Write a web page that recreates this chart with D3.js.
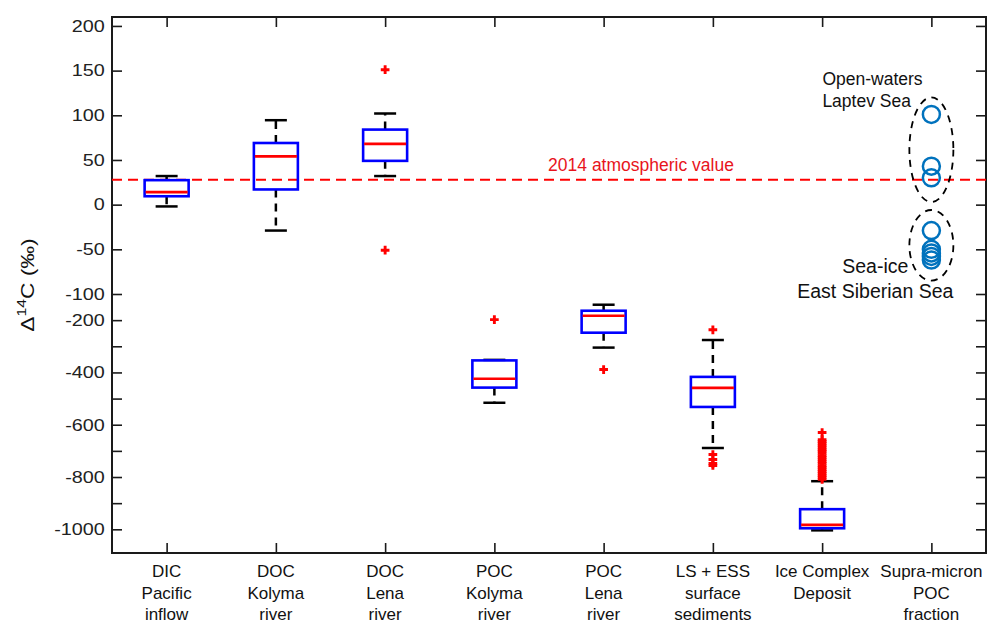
<!DOCTYPE html>
<html>
<head>
<meta charset="utf-8">
<script src="https://cdn.jsdelivr.net/npm/d3@7/dist/d3.min.js"></script>
<style>
  body { margin: 0; background: #fff; }
  text { font-family: "Liberation Sans", Arial, Helvetica, sans-serif; }
</style>
</head>
<body>
<svg id="chart" width="989" height="623"></svg>
<script>
///data
var categories = ["DIC", "DOC Kolyma", "DOC Lena", "POC Kolyma", "POC Lena", "LS+ESS", "ICD", "Supra"];
var catLabels = [
  ["DIC", "Pacific", "inflow"],
  ["DOC", "Kolyma", "river"],
  ["DOC", "Lena", "river"],
  ["POC", "Kolyma", "river"],
  ["POC", "Lena", "river"],
  ["LS + ESS", "surface", "sediments"],
  ["Ice Complex", "Deposit"],
  ["Supra-micron", "POC", "fraction"]
];

var whiskerLow  = [-2,   -29, 32,  -516, -305, -689, -1004];
var q1          = [9.4,  17,  49,  -458, -248, -532, -996];
var median      = [14,   54,  68,  -424, -183, -459, -983];
var q3          = [27.4, 69,  84,  -354, -164, -417, -923];
var whiskerHigh = [32,   94.5, 102, -352, -141, -276, -816];
var outliers = [
  [],
  [],
  [151, -51],
  [-198],
  [-389],
  [-237, -714, -733, -748, -756],
  [-630, -657, -664, -671, -679, -686, -695, -701, -709, -718, -725, -733, -741, -748, -757, -763, -771, -779, -786, -794, -801, -809]
];

var supraValues = [101, 43, 30, -29, -50, -54, -58, -62];
var openWaterRange = [3, 120];   // dashed ellipse, open waters
var seaIceRange = [-85, -6];     // dashed ellipse, sea ice
var atmosValue = 28;

var yTicksUpper = [-100, -50, 0, 50, 100, 150, 200];
var yTicksLower = [-1000, -900, -800, -700, -600, -500, -400, -300, -200];
var yLabelled = [-1000, -800, -600, -400, -200, -100, -50, 0, 50, 100, 150, 200];

///layout
var mLeft = 112, mRight = 986, mTop = 17, mBottom = 553;
var svg = d3.select('#chart');

var x = d3.scalePoint()
    .domain(categories)
    .range([mLeft, mRight])
    .padding(0.5);

// broken axis: compressed below -100
var y = d3.scaleLinear()
    .domain([-1090.6, -100, 210])
    .range([mBottom, 294, mTop]);

var axisColor = '#1a1a1a';
var allTicks = yTicksLower.concat(yTicksUpper);

///axes (ticks pointing in, like matlab)
var gLeft = svg.append('g')
    .attr('transform', `translate(${mLeft},0)`)
    .call(d3.axisLeft(y).tickValues(allTicks).tickSize(-10).tickSizeOuter(0).tickPadding(6)
      .tickFormat(d => yLabelled.indexOf(d) >= 0 ? d : ''));
gLeft.selectAll('text')
    .attr('font-size', '16.5px')
    .attr('fill', '#222')
    .attr('transform', 'scale(1.2,1)');

var gRight = svg.append('g')
    .attr('transform', `translate(${mRight},0)`)
    .call(d3.axisRight(y).tickValues(allTicks).tickSize(-10).tickSizeOuter(0).tickFormat(''));

var gTop = svg.append('g')
    .attr('transform', `translate(0,${mTop})`)
    .call(d3.axisTop(x).tickSize(-10).tickSizeOuter(0).tickFormat(''));

var gBottom = svg.append('g')
    .attr('transform', `translate(0,${mBottom})`)
    .call(d3.axisBottom(x).tickSize(-10).tickSizeOuter(0).tickFormat(''));

[gLeft, gRight, gTop, gBottom].forEach(g => {
  g.select('.domain').remove();
  g.selectAll('line').attr('stroke', axisColor).attr('stroke-width', 1.6);
});

svg.append('rect')
    .attr('x', mLeft).attr('y', mTop)
    .attr('width', mRight - mLeft).attr('height', mBottom - mTop)
    .attr('fill', 'none')
    .attr('stroke', axisColor)
    .attr('stroke-width', 2);

///category labels
catLabels.forEach((lines, i) => {
  var t = svg.append('text')
      .attr('text-anchor', 'middle')
      .attr('font-size', '17px')
      .attr('fill', '#111');
  lines.forEach((s, j) => {
    t.append('tspan')
        .attr('x', x(categories[i]))
        .attr('y', mBottom + 24 + j * 21.5)
        .text(s);
  });
});

///y label
var ylab = svg.append('text')
    .attr('transform', 'translate(34,285) rotate(-90) scale(1.2,1)')
    .attr('text-anchor', 'middle')
    .attr('font-size', '19px')
    .attr('fill', '#111');
ylab.append('tspan').text('\u0394');
ylab.append('tspan').attr('font-size', '13px').attr('dy', -8).text('14');
ylab.append('tspan').attr('dy', 8).text('C (\u2030)');

///atmospheric line
svg.append('line')
    .attr('x1', mLeft).attr('x2', mRight)
    .attr('y1', y(atmosValue)).attr('y2', y(atmosValue))
    .attr('stroke', '#ff0000')
    .attr('stroke-width', 2)
    .attr('stroke-dasharray', '10,6');

svg.append('text')
    .attr('x', 641)
    .attr('y', y(atmosValue) - 9)
    .attr('text-anchor', 'middle')
    .attr('font-size', '17.5px')
    .attr('fill', '#e8141c')
    .text('2014 atmospheric value');

///boxes
var boxHalf = 22, capHalf = 11;
var boxes = svg.append('g');

q1.forEach((_, i) => {
  var cx = x(categories[i]);
  var g = boxes.append('g');

  // whiskers
  [[q3[i], whiskerHigh[i]], [q1[i], whiskerLow[i]]].forEach(p => {
    g.append('line')
        .attr('x1', cx).attr('x2', cx)
        .attr('y1', y(p[0])).attr('y2', y(p[1]))
        .attr('stroke', '#000')
        .attr('stroke-width', 2.5)
        .attr('stroke-dasharray', '8,6');
    g.append('line')
        .attr('x1', cx - capHalf).attr('x2', cx + capHalf)
        .attr('y1', y(p[1])).attr('y2', y(p[1]))
        .attr('stroke', '#000')
        .attr('stroke-width', 2.5);
  });

  g.append('rect')
      .attr('x', cx - boxHalf)
      .attr('y', y(q3[i]))
      .attr('width', boxHalf * 2)
      .attr('height', y(q1[i]) - y(q3[i]))
      .attr('fill', 'none')
      .attr('stroke', '#0000ff')
      .attr('stroke-width', 2.6);

  g.append('line')
      .attr('x1', cx - boxHalf + 1).attr('x2', cx + boxHalf - 1)
      .attr('y1', y(median[i])).attr('y2', y(median[i]))
      .attr('stroke', '#ff0000')
      .attr('stroke-width', 2.6);

  g.selectAll('path.out')
      .data(outliers[i])
      .enter().append('path')
      .attr('class', 'out')
      .attr('transform', d => `translate(${cx},${y(d)})`)
      .attr('d', d3.symbol(d3.symbolCross, 42))
      .attr('fill', '#ff0000');
});

///supra-micron POC points
var sx = x(categories[7]);
[openWaterRange, seaIceRange].forEach(r => {
  svg.append('ellipse')
      .attr('cx', sx)
      .attr('cy', (y(r[0]) + y(r[1])) / 2)
      .attr('rx', 22)
      .attr('ry', (y(r[0]) - y(r[1])) / 2)
      .attr('fill', 'none')
      .attr('stroke', '#000')
      .attr('stroke-width', 1.8)
      .attr('stroke-dasharray', '7,6');
});

svg.selectAll('circle.supra')
    .data(supraValues)
    .enter().append('circle')
    .attr('class', 'supra')
    .attr('cx', sx)
    .attr('cy', d => y(d))
    .attr('r', 8.5)
    .attr('fill', 'none')
    .attr('stroke', '#0072bd')
    .attr('stroke-width', 2.5);

///annotations
svg.append('text')
    .attr('x', sx - 109).attr('y', y(openWaterRange[1]) - 12)
    .attr('font-size', '17.5px').attr('fill', '#111')
    .text('Open-waters');
svg.append('text')
    .attr('x', sx - 109).attr('y', y(openWaterRange[1]) + 10)
    .attr('font-size', '17.5px').attr('fill', '#111')
    .text('Laptev Sea');
svg.append('text')
    .attr('x', sx - 23).attr('y', y(seaIceRange[0]) - 8)
    .attr('text-anchor', 'end')
    .attr('font-size', '19.5px').attr('fill', '#111')
    .text('Sea-ice');
svg.append('text')
    .attr('x', sx + 22).attr('y', y(seaIceRange[0]) + 17)
    .attr('text-anchor', 'end')
    .attr('font-size', '19.5px').attr('fill', '#111')
    .text('East Siberian Sea');
</script>
</body>
</html>
